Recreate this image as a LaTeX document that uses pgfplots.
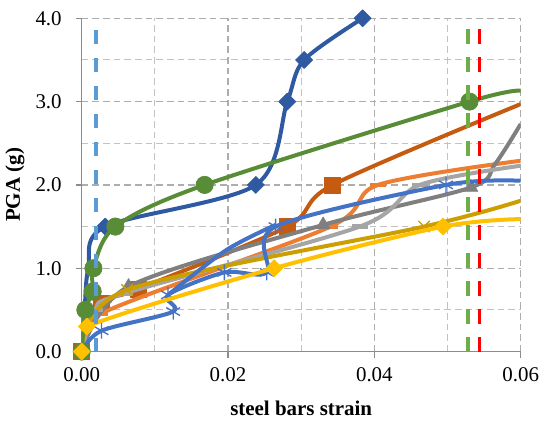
\documentclass[border=0pt]{standalone}
\usepackage{fontspec}
\setmainfont{Liberation Serif}
\usepackage{pgfplots}
\pgfplotsset{compat=1.18}
\definecolor{cDB}{HTML}{2F5AA2}
\definecolor{cGR}{HTML}{588C37}
\definecolor{cDO}{HTML}{C55A11}
\definecolor{cOR}{HTML}{ED7D31}
\definecolor{cGY}{HTML}{7F7F7F}
\definecolor{cLG}{HTML}{A5A5A5}
\definecolor{cGD}{HTML}{CC9E00}
\definecolor{cYE}{HTML}{FFC000}
\definecolor{cBL}{HTML}{4472C4}
\definecolor{cLB}{HTML}{5B9BD5}
\definecolor{cLGN}{HTML}{70AD47}
\definecolor{cRED}{HTML}{FF0000}
\pgfplotsset{ser/.style={line width=3pt, smooth, line join=round}}
\begin{document}
\begin{tikzpicture}
\path[use as bounding box] (-61.3pt,-52.7pt) rectangle (345.25pt,263.7pt);
\begin{axis}[
  at={(0,0)}, anchor=south west,
  scale only axis, width=329.25pt, height=250pt,
  xmin=0, xmax=0.06, ymin=0, ymax=4,
  xtick={0,0.02,0.04,0.06}, ytick={0,1,2,3,4},
  minor xtick={0.01,0.03,0.05}, minor ytick={0.5,1.5,2.5,3.5},
  grid=both,
  major grid style={dash pattern=on 5pt off 3pt, color=black!32, line width=0.9pt},
  minor grid style={dash pattern=on 5pt off 3pt, color=black!24, line width=0.75pt},
  axis lines*=left,
  axis line style={-, color=black!45, line width=1.1pt},
  tick align=outside, major tick length=4.5pt, minor tick length=0pt,
  tick style={color=black!45, line width=1pt},
  scaled x ticks=false, scaled y ticks=false,
  /pgf/number format/assume math mode=true,
  xticklabel style={/pgf/number format/fixed, /pgf/number format/fixed zerofill, /pgf/number format/precision=2, yshift=-4pt},
  yticklabel style={/pgf/number format/fixed, /pgf/number format/fixed zerofill, /pgf/number format/precision=1, xshift=-7pt},
  ticklabel style={font=\fontsize{15.7}{18}\selectfont},
  xlabel={steel bars strain}, ylabel={PGA (g)},
  label style={font=\bfseries\fontsize{15.7}{18}\selectfont},
  xlabel style={at={(axis description cs:0.5,-0.169)}, anchor=center},
  ylabel style={at={(axis description cs:-0.152,0.5)}, anchor=center},
  clip mode=individual,
]
% dark blue diamonds
\addplot[ser, cDB, mark=square*, mark size=4.5pt, mark indices={4,5,6,7,8},
  mark options={solid, rotate=45, fill=cDB, draw=cDB, line width=0.5pt}]
  coordinates {(0,0) (0.0004,0.5) (0.0009,1.0) (0.0032,1.5) (0.0238,2.0) (0.0281,3.0) (0.0304,3.5) (0.0384,4.0)};
% dark orange squares
\addplot[ser, cDO, mark=square*, mark size=6pt, mark indices={1,2,3,4,5},
  mark options={solid, fill=cDO, draw=cDO, line width=0.5pt}]
  coordinates {(0,0) (0.0027,0.58) (0.0077,0.75) (0.0281,1.5) (0.0343,2.0) (0.06,2.97)};
% orange dash markers
\addplot[ser, cOR, mark=-, mark size=6pt, mark indices={1,2,3,4},
  mark options={solid, draw=cOR, line width=3.5pt}]
  coordinates {(0,0) (0.0025,0.45) (0.034,1.5) (0.0405,2.0) (0.06,2.29)};
% grey triangles
\addplot[ser, cGY, mark=triangle*, mark size=6pt, mark indices={1,2,3,4},
  mark options={solid, fill=cGY, draw=cGY, line width=0.5pt}]
  coordinates {(0,0) (0.0064,0.78) (0.033,1.52) (0.0532,1.97) (0.0565,2.25) (0.06,2.73)};
% light grey dash markers
\addplot[ser, cLG, mark=-, mark size=6pt, mark indices={1,2,3,4,5},
  mark options={solid, draw=cLG, line width=3.5pt}]
  coordinates {(0,0) (0.0018,0.5) (0.0059,0.7) (0.038,1.5) (0.0462,2.0) (0.06,2.23)};
% gold x markers
\addplot[ser, cGD, mark=x, mark size=6pt, mark indices={1,2,3},
  mark options={solid, draw=cGD, line width=1pt}]
  coordinates {(0,0) (0.0062,0.74) (0.0468,1.5) (0.06,1.81)};
% blue asterisks
\addplot[ser, cBL, mark=asterisk, mark size=6pt, mark indices={1,2,3,4,5,6,7,8},
  mark options={solid, draw=cBL, line width=1pt}]
  coordinates {(0,0) (0.0027,0.25) (0.0125,0.48) (0.0118,0.68) (0.0195,0.95) (0.0253,0.95) (0.0265,1.5) (0.0498,2.0) (0.06,2.05)};
\addplot[ser, cBL] coordinates {(0.0118,0.68) (0.0198,1.22) (0.0265,1.52)};
% green circles
\addplot[ser, cGR, mark=*, mark size=6.5pt, mark indices={1,2,3,4,5,6,7},
  mark options={solid, fill=cGR, draw=cGR, line width=0.5pt}]
  coordinates {(0,0) (0.0005,0.5) (0.0015,0.72) (0.0016,1.0) (0.0046,1.5) (0.0168,2.0) (0.053,3.0) (0.06,3.13)};
% yellow diamonds
\addplot[ser, cYE, mark=square*, mark size=4.5pt, mark indices={1,2,3,4},
  mark options={solid, rotate=45, fill=cYE, draw=cYE, line width=0.5pt}]
  coordinates {(0,0) (0.0007,0.3) (0.0263,1.0) (0.0494,1.5) (0.06,1.59)};
% vertical limits
\addplot[cLB, line width=3pt, dash pattern=on 10.5pt off 10.5pt, sharp plot] coordinates {(0.0019,0) (0.0019,4)};
\addplot[cLGN, line width=2.4pt, dash pattern=on 11pt off 10pt, sharp plot] coordinates {(0.0528,0) (0.0528,4)};
\addplot[cRED, line width=2.4pt, dash pattern=on 11pt off 10pt, sharp plot] coordinates {(0.0544,0) (0.0544,4)};
\end{axis}
\end{tikzpicture}
\end{document}
